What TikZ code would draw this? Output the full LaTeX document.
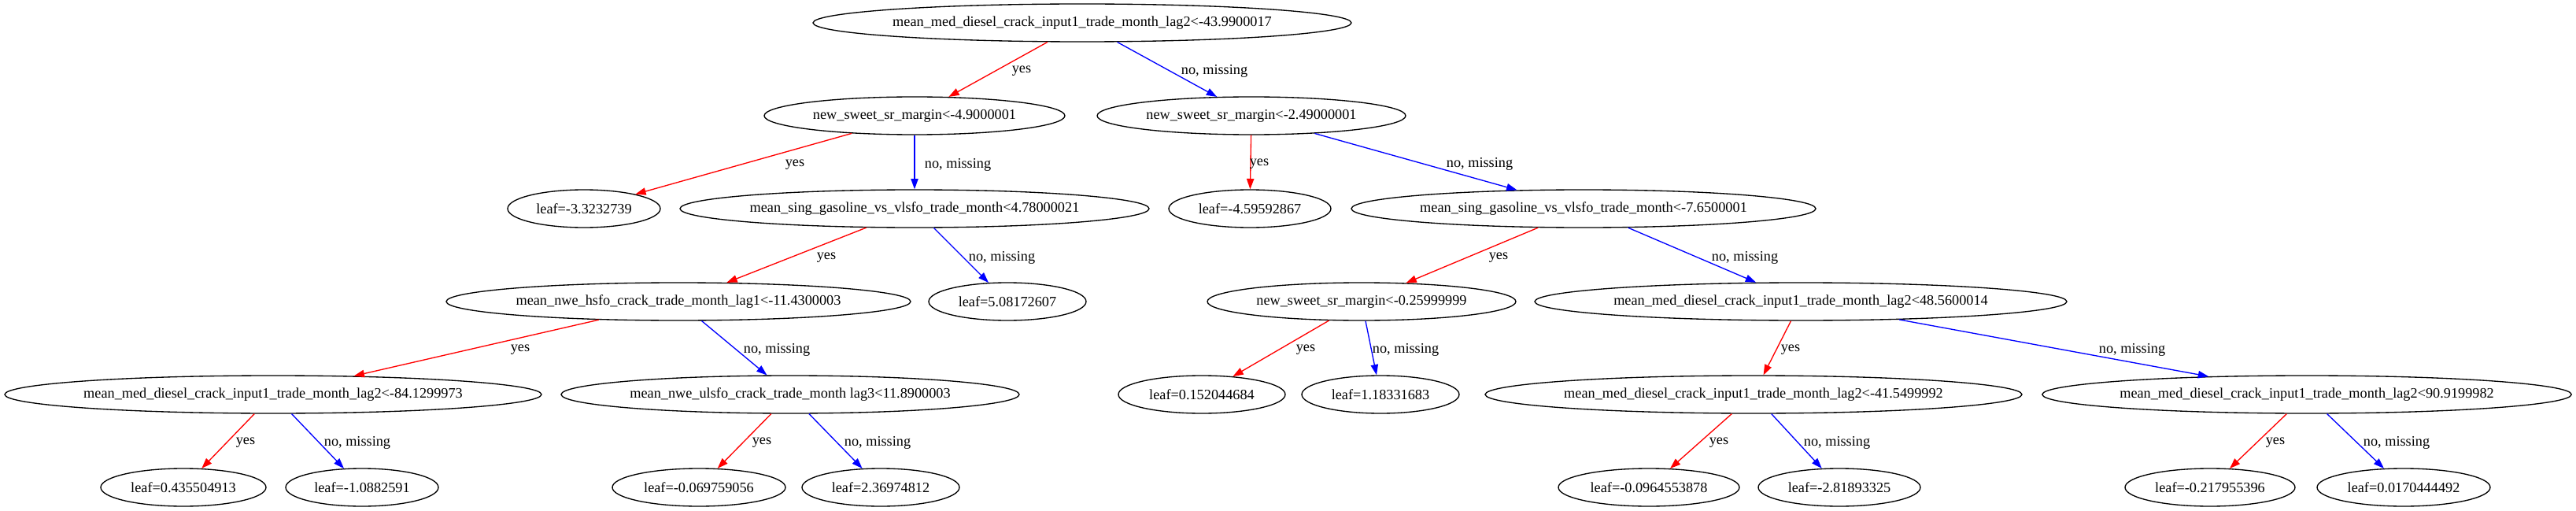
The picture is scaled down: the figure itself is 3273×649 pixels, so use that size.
\documentclass[tikz,border=0pt]{standalone}
\usepackage{fontspec}
\setmainfont{Liberation Serif}
\usetikzlibrary{shapes.geometric,arrows.meta}
\begin{document}
\begin{tikzpicture}[x=0.75pt,y=-0.75pt,
  gv/.style={draw=black, line width=1pt, ellipse, inner sep=0pt, minimum height=36pt, font=\fontsize{13.7}{16}\selectfont},
  ew/.style={minimum width=#1*0.75pt},
  yesedge/.style={draw=red, line width=1pt, -{Triangle[length=10pt,width=7pt]}},
  noedge/.style={draw=blue, line width=1pt, -{Triangle[length=10pt,width=7pt]}},
  lbl/.style={inner sep=0pt, font=\fontsize{13.7}{16}\selectfont}]
\useasboundingbox[fill=white] (0,0) rectangle (3273,649);
% level 0
\node[gv,ew=684] (root) at (1375,29) {mean\_med\_diesel\_crack\_input1\_trade\_month\_lag2<-43.9900017};
% level 1
\node[gv,ew=382] (n1) at (1162,147) {new\_sweet\_sr\_margin<-4.9000001};
\node[gv,ew=392] (n2) at (1590,147) {new\_sweet\_sr\_margin<-2.49000001};
% level 2
\node[gv,ew=194] (lA) at (742,265) {leaf=-3.3232739};
\node[gv,ew=596] (ms1) at (1162,265) {mean\_sing\_gasoline\_vs\_vlsfo\_trade\_month<4.78000021};
\node[gv,ew=206] (lB) at (1588,265) {leaf=-4.59592867};
\node[gv,ew=590] (ms2) at (2012,265) {mean\_sing\_gasoline\_vs\_vlsfo\_trade\_month<-7.6500001};
% level 3
\node[gv,ew=590] (hsfo) at (862,383) {mean\_nwe\_hsfo\_crack\_trade\_month\_lag1<-11.4300003};
\node[gv,ew=200] (lC) at (1280,383) {leaf=5.08172607};
\node[gv,ew=392] (ns3) at (1730,383) {new\_sweet\_sr\_margin<-0.25999999};
\node[gv,ew=676] (md48) at (2288,383) {mean\_med\_diesel\_crack\_input1\_trade\_month\_lag2<48.5600014};
% level 4
\node[gv,ew=682] (md84) at (347,501) {mean\_med\_diesel\_crack\_input1\_trade\_month\_lag2<-84.1299973};
\node[gv,ew=582] (ulsfo) at (1004,501) {mean\_nwe\_ulsfo\_crack\_trade\_month lag3<11.8900003};
\node[gv,ew=212] (lD) at (1527,501) {leaf=0.152044684};
\node[gv,ew=200] (lE) at (1754,501) {leaf=1.18331683};
\node[gv,ew=682] (md41) at (2228,501) {mean\_med\_diesel\_crack\_input1\_trade\_month\_lag2<-41.5499992};
\node[gv,ew=672] (md90) at (2931,501) {mean\_med\_diesel\_crack\_input1\_trade\_month\_lag2<90.9199982};
% level 5
\node[gv,ew=210] (lF) at (233,619) {leaf=0.435504913};
\node[gv,ew=194] (lG) at (460,619) {leaf=-1.0882591};
\node[gv,ew=220] (lH) at (888,619) {leaf=-0.069759056};
\node[gv,ew=200] (lI) at (1119,619) {leaf=2.36974812};
\node[gv,ew=230] (lJ) at (2095,619) {leaf=-0.0964553878};
\node[gv,ew=206] (lK) at (2337,619) {leaf=-2.81893325};
\node[gv,ew=216] (lL) at (2808,619) {leaf=-0.217955396};
\node[gv,ew=220] (lM) at (3054,619) {leaf=0.0170444492};
% edges
\draw[yesedge] (root) -- (n1);  \node[lbl] (t1) at (1298,90) {yes};
\draw[noedge]  (root) -- (n2);  \node[lbl] (t2) at (1543,90) {no, missing};
\draw[yesedge] (n1) -- (lA);    \node[lbl] (t3) at (1010,209) {yes};
\draw[noedge]  (n1) -- (ms1);   \node[lbl] (t4) at (1217,209) {no, missing};
\draw[yesedge] (n2) -- (lB);    \node[lbl] (t5) at (1600,208) {yes};
\draw[noedge]  (n2) -- (ms2);   \node[lbl] (t6) at (1880,208) {no, missing};
\draw[yesedge] (ms1) -- (hsfo); \node[lbl] (t7) at (1050,327) {yes};
\draw[noedge]  (ms1) -- (lC);   \node[lbl] (t8) at (1273,327) {no, missing};
\draw[yesedge] (ms2) -- (ns3);  \node[lbl] (t9) at (1904,327) {yes};
\draw[noedge]  (ms2) -- (md48); \node[lbl] (t10) at (2217,327) {no, missing};
\draw[yesedge] (hsfo) -- (md84); \node[lbl] (t11) at (661,444) {yes};
\draw[noedge]  (hsfo) -- (ulsfo); \node[lbl] (t12) at (987,444) {no, missing};
\draw[yesedge] (ns3) -- (lD);   \node[lbl] (t13) at (1659,444) {yes};
\draw[noedge]  (ns3) -- (lE);   \node[lbl] (t14) at (1786,444) {no, missing};
\draw[yesedge] (md48) -- (md41); \node[lbl] (t15) at (2275,444) {yes};
\draw[noedge]  (md48) -- (md90); \node[lbl] (t16) at (2709,444) {no, missing};
\draw[yesedge] (md84) -- (lF);  \node[lbl] (t17) at (312,562) {yes};
\draw[noedge]  (md84) -- (lG);  \node[lbl] (t18) at (454,562) {no, missing};
\draw[yesedge] (ulsfo) -- (lH); \node[lbl] (t19) at (968,562) {yes};
\draw[noedge]  (ulsfo) -- (lI); \node[lbl] (t20) at (1115,562) {no, missing};
\draw[yesedge] (md41) -- (lJ);  \node[lbl] (t21) at (2184,562) {yes};
\draw[noedge]  (md41) -- (lK);  \node[lbl] (t22) at (2334,562) {no, missing};
\draw[yesedge] (md90) -- (lL);  \node[lbl] (t23) at (2891,562) {yes};
\draw[noedge]  (md90) -- (lM);  \node[lbl] (t24) at (3045,562) {no, missing};
\end{tikzpicture}
\end{document}
